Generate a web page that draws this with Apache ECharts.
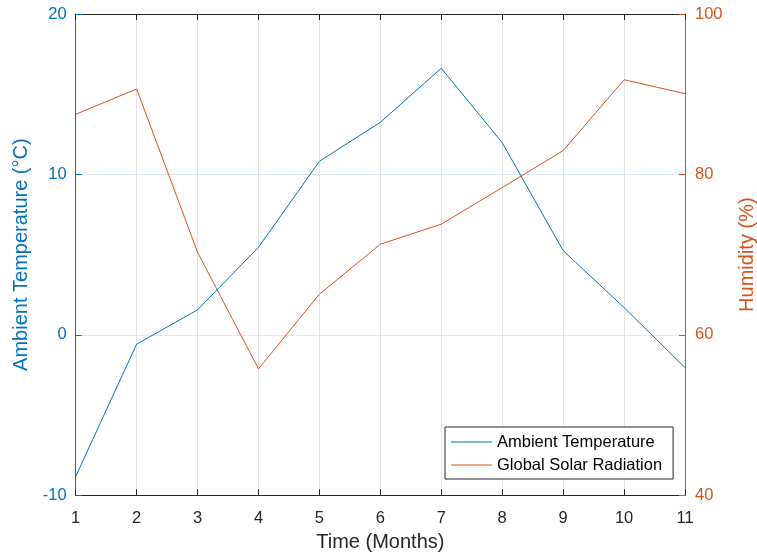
<!DOCTYPE html>
<html><head><meta charset="utf-8">
<script src="https://cdn.jsdelivr.net/npm/echarts@6/dist/echarts.min.js"></script>
<style>html,body{margin:0;padding:0;background:#fff;overflow:hidden}#c{width:757px;height:559px}</style>
</head><body><div id="c"></div>
<script>
const months = [1,2,3,4,5,6,7,8,9,10,11];
const temperature = [-8.83,-0.58,1.56,5.46,10.82,13.25,16.62,11.98,5.25,1.7,-2.04];
const humidity = [87.5,90.65,70.3,55.76,65.07,71.3,73.8,78.36,82.97,91.8,90.07];
const xTicks = [1,2,3,4,5,6,7,8,9,10,11];
const leftTicks = [-10,0,10,20];
const rightTicks = [40,60,80,100];

const BLUE = '#0072BD', ORANGE = '#D95319', DARK = '#262626';
const FONT = 'Liberation Sans, Arial, sans-serif';
const chart = echarts.init(document.getElementById('c'));
chart.setOption({
  animation:false,
  backgroundColor:'#fff',
  grid:{left:75.7,width:609.3,top:14,height:481.3,containLabel:false,outerBoundsMode:'none'},
  xAxis:[{
    type:'value',min:xTicks[0],max:xTicks[xTicks.length-1],interval:1,position:'bottom',
    name:'Time (Months)',nameLocation:'middle',nameGap:35,
    nameTextStyle:{color:DARK,fontSize:20,fontFamily:FONT},
    axisLine:{show:true,onZero:false,lineStyle:{color:DARK,width:1}},
    axisTick:{show:true,inside:true,length:6,lineStyle:{color:DARK}},
    axisLabel:{color:DARK,fontSize:16.5,fontFamily:FONT,margin:15},
    splitLine:{show:true,lineStyle:{color:'#e3e3e3',width:1}}
  },{
    type:'value',min:xTicks[0],max:xTicks[xTicks.length-1],interval:1,position:'top',
    axisLine:{show:true,onZero:false,lineStyle:{color:DARK,width:1}},
    axisTick:{show:true,inside:true,length:6,lineStyle:{color:DARK}},
    axisLabel:{show:false},splitLine:{show:false}
  }],
  yAxis:[{
    type:'value',min:leftTicks[0],max:leftTicks[leftTicks.length-1],interval:10,position:'left',
    name:'Ambient Temperature (°C)',nameLocation:'middle',nameGap:44,
    nameTextStyle:{color:BLUE,fontSize:20,fontFamily:FONT},
    axisLine:{show:true,onZero:false,lineStyle:{color:BLUE,width:1}},
    axisTick:{show:true,inside:true,length:6,lineStyle:{color:BLUE}},
    axisLabel:{color:BLUE,fontSize:16.5,fontFamily:FONT,margin:9},
    splitLine:{show:true,lineStyle:{color:'#dbe9f5',width:1}}
  },{
    type:'value',min:rightTicks[0],max:rightTicks[rightTicks.length-1],interval:20,position:'right',
    name:'Humidity (%)',nameLocation:'middle',nameGap:52,nameRotate:90,
    nameTextStyle:{color:ORANGE,fontSize:20,fontFamily:FONT},
    axisLine:{show:true,onZero:false,lineStyle:{color:ORANGE,width:1}},
    axisTick:{show:true,inside:true,length:6,lineStyle:{color:ORANGE}},
    axisLabel:{color:ORANGE,fontSize:16.5,fontFamily:FONT,margin:10},
    splitLine:{show:false}
  }],
  legend:{
    orient:'vertical',left:445,top:427,
    backgroundColor:'#fff',borderColor:DARK,borderWidth:1,
    padding:[6,11,5,6],itemGap:5,itemWidth:41,itemHeight:1,icon:'rect',
    textStyle:{color:'#000',fontSize:16.5,fontFamily:FONT,lineHeight:18},
    data:['Ambient Temperature','Global Solar Radiation']
  },
  series:[{
    name:'Ambient Temperature',type:'line',xAxisIndex:0,yAxisIndex:0,
    data:months.map((m,i)=>[m,temperature[i]]),
    symbol:'none',lineStyle:{color:BLUE,width:1},itemStyle:{color:BLUE}
  },{
    name:'Global Solar Radiation',type:'line',xAxisIndex:0,yAxisIndex:1,
    data:months.map((m,i)=>[m,humidity[i]]),
    symbol:'none',lineStyle:{color:ORANGE,width:1},itemStyle:{color:ORANGE}
  }]
});
</script></body></html>
